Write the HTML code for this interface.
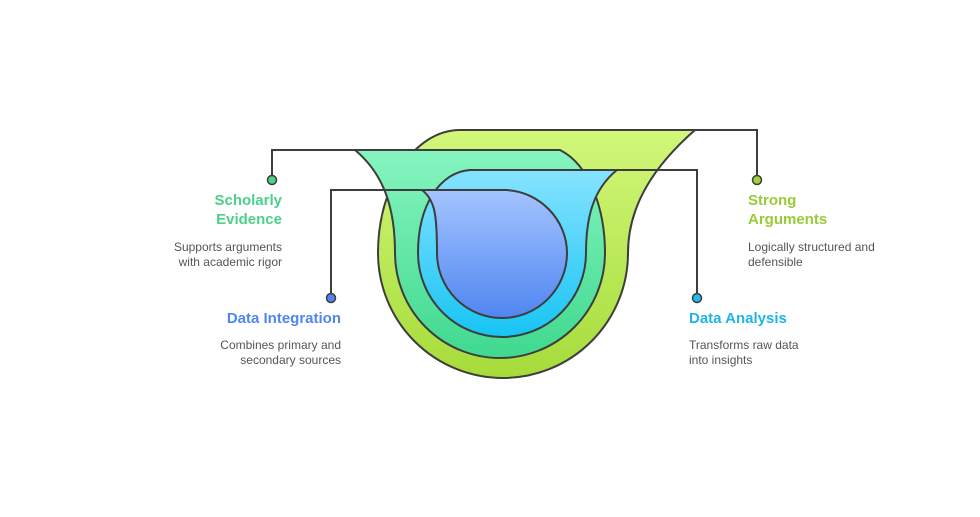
<!DOCTYPE html>
<html><head><meta charset="utf-8"><style>
html,body{margin:0;padding:0;background:#fff;}
svg{display:block;font-family:"Liberation Sans",sans-serif;}
.t{font-size:15px;font-weight:bold;}
.d{font-size:12px;fill:#555;}
</style></head><body>
<svg width="980" height="517" viewBox="0 0 980 517" xmlns="http://www.w3.org/2000/svg">
<defs>
<linearGradient id="gl" x1="0" y1="0" x2="0" y2="1"><stop offset="0" stop-color="#d2f77a"/><stop offset="1" stop-color="#a6dc3a"/></linearGradient>
<linearGradient id="gm" x1="0" y1="0" x2="0" y2="1"><stop offset="0" stop-color="#86f5c0"/><stop offset="1" stop-color="#3fd98e"/></linearGradient>
<linearGradient id="gc" x1="0" y1="0" x2="0" y2="1"><stop offset="0" stop-color="#86e3ff"/><stop offset="1" stop-color="#17c4f4"/></linearGradient>
<linearGradient id="gb" x1="0" y1="0" x2="0" y2="1"><stop offset="0" stop-color="#a4c4ff"/><stop offset="1" stop-color="#4f86f0"/></linearGradient>
</defs>
<g stroke="#3d3d3d" stroke-width="2">
<path fill="url(#gl)" d="M460,130 L695,130 C655,165 628,205 628,253 A125,125 0 1 1 378,253 C378,185 415,130 460,130 Z"/>
<path fill="url(#gm)" d="M355,150 L560,150 C590,165 605,210 605,253 A105,105 0 1 1 395,253 C395,210 385,175 355,150 Z"/>
<path fill="url(#gc)" d="M470,170 L617,170 C592,190 586,220 586,253 A84,84 0 1 1 418,253 C418,205 440,172 470,170 Z"/>
<path fill="url(#gb)" d="M422,190 L507,190 C540,192 567,220 567,253 A65,65 0 1 1 437,253 C437,215 435,200 422,190 Z"/>
</g>
<g stroke="#3d3d3d" stroke-width="2" fill="none">
<path d="M757,180 V130 H695"/>
<path d="M272,180 V150 H355"/>
<path d="M697,298 V170 H617"/>
<path d="M331,298 V190 H422"/>
</g>
<g stroke="#3d3d3d" stroke-width="1.5">
<circle cx="272" cy="180" r="4.5" fill="#4cd08a"/>
<circle cx="331" cy="298" r="4.5" fill="#4f86f0"/>
<circle cx="757" cy="180" r="4.5" fill="#9fd33a"/>
<circle cx="697" cy="298" r="4.5" fill="#1fbef0"/>
</g>
<g text-anchor="end">
<text class="t" x="282" y="205" fill="#4cd08a">Scholarly</text>
<text class="t" x="282" y="224" fill="#4cd08a">Evidence</text>
<text class="d" x="282" y="251">Supports arguments</text>
<text class="d" x="282" y="266">with academic rigor</text>
<text class="t" x="341" y="323" fill="#4f86f0">Data Integration</text>
<text class="d" x="341" y="349">Combines primary and</text>
<text class="d" x="341" y="364">secondary sources</text>
</g>
<text class="t" x="748" y="205" fill="#97cc36">Strong</text>
<text class="t" x="748" y="224" fill="#97cc36">Arguments</text>
<text class="d" x="748" y="251">Logically structured and</text>
<text class="d" x="748" y="266">defensible</text>
<text class="t" x="689" y="323" fill="#1fb5e8">Data Analysis</text>
<text class="d" x="689" y="349">Transforms raw data</text>
<text class="d" x="689" y="364">into insights</text>
</svg>
</body></html>
